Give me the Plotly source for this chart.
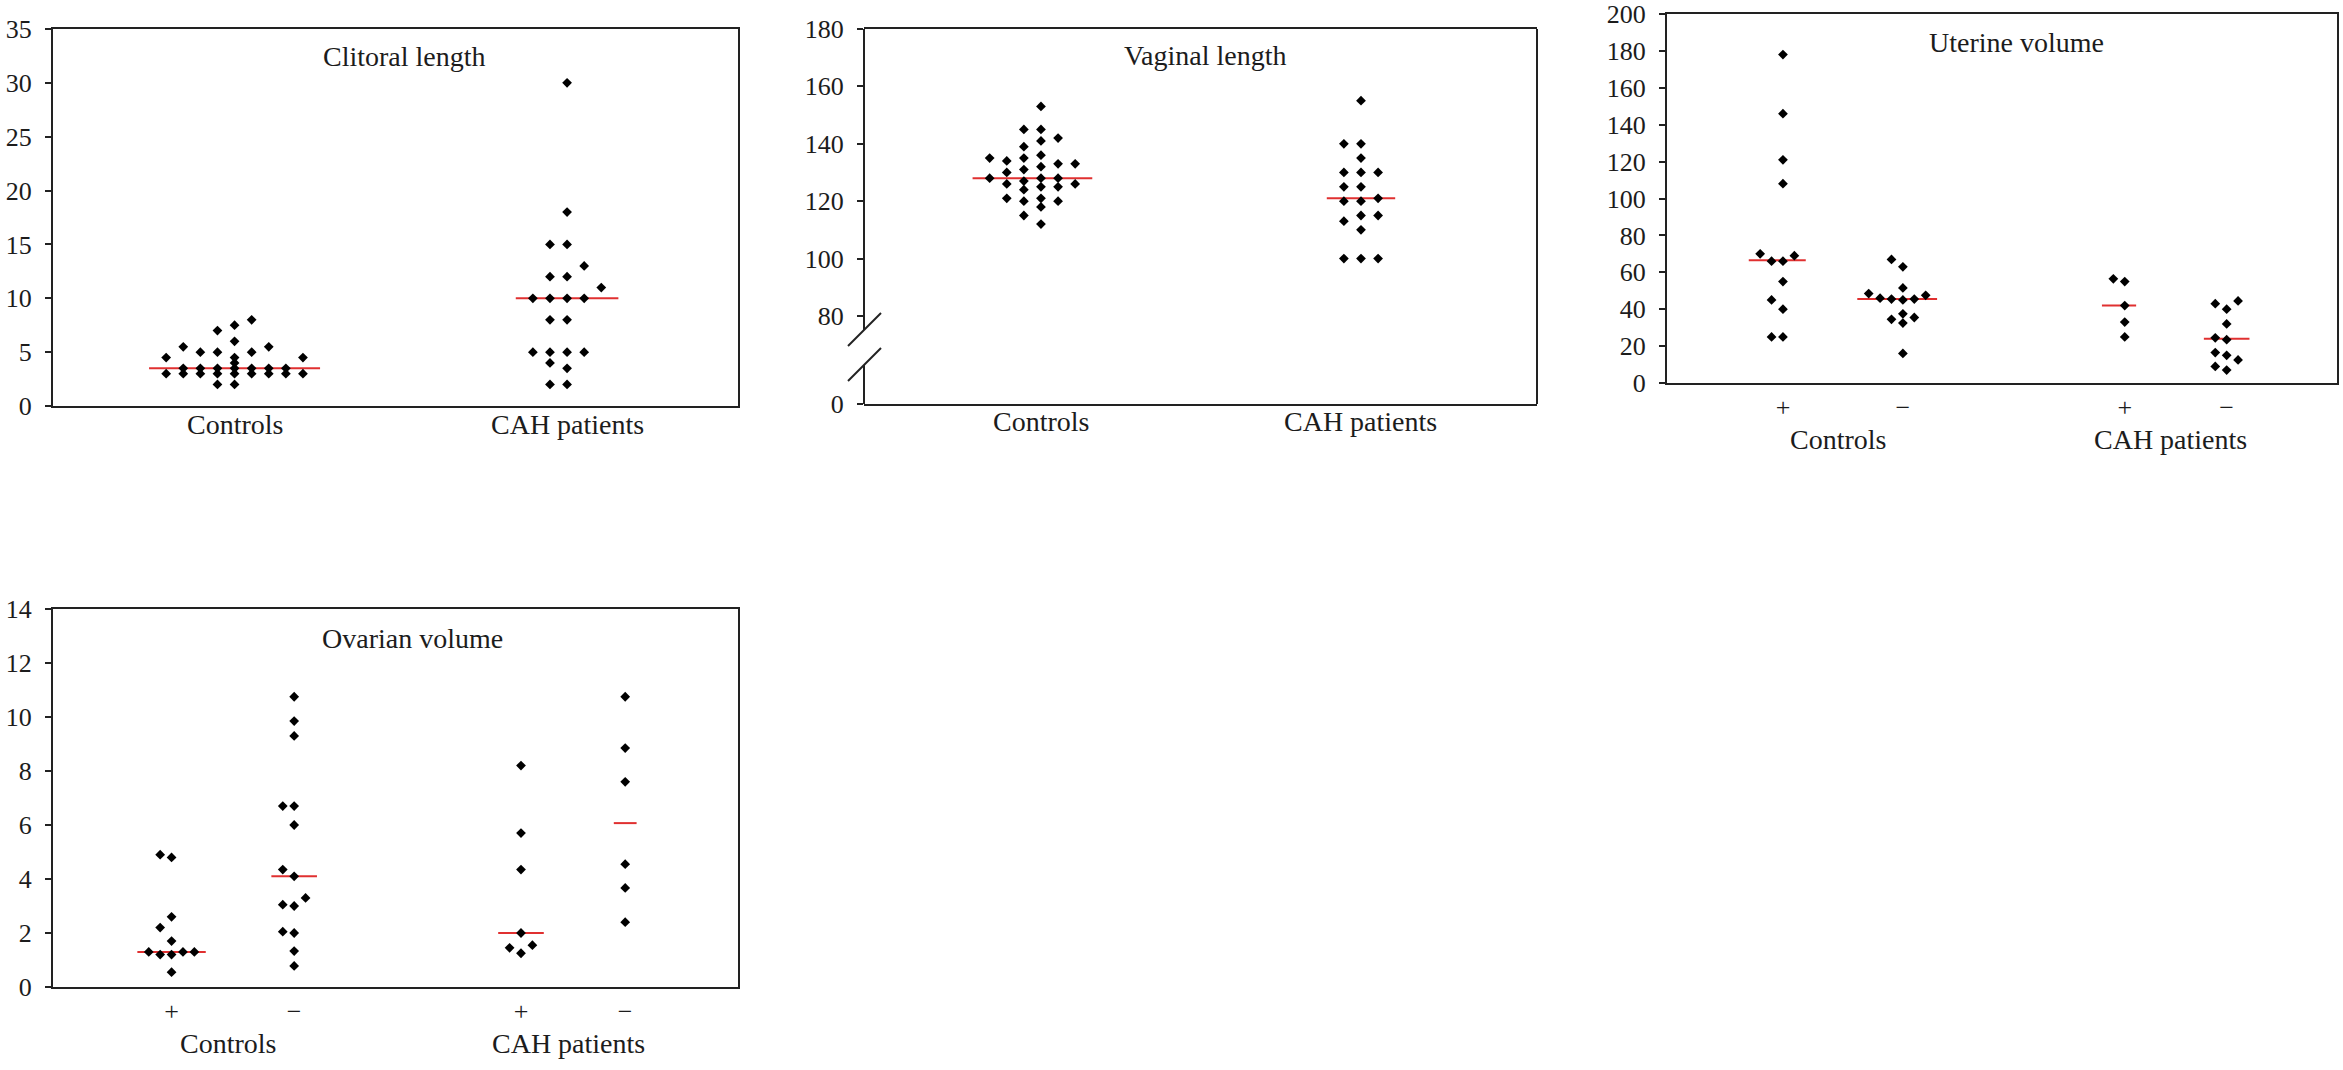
import plotly.graph_objects as go

# ---------------- data ----------------
titles = ["Clitoral length", "Vaginal length", "Uterine volume", "Ovarian volume"]
main_groups = ["Controls", "CAH patients"]
sub_groups = ["+", "−", "+", "−"]

clit_controls = [3, 4.5, 3, 7, 5.5, 3.5, 3, 6, 3.5, 3, 8, 5, 4, 3.5, 2, 5, 3,
                 3.5, 3, 2, 7.5, 5, 4.5, 3.5, 3, 5.5, 4.5, 3.5, 3, 3.5, 3]
clit_cah = [30, 18, 15, 15, 13, 12, 12, 11, 10, 10, 10, 10, 8, 8, 5, 5, 5, 5,
            4, 3.5, 2, 2]
clit_median = [3.5, 10]

vag_controls = [142, 136, 128, 126, 118, 145, 139, 133, 128, 125, 121, 145,
                141, 135, 124, 121, 112, 134, 131, 126, 115, 153, 133, 130,
                127, 120, 135, 132, 128, 125, 120]
vag_cah = [155, 140, 140, 135, 130, 130, 130, 125, 125, 120, 120, 121, 115,
           115, 113, 110, 100, 100, 100]
vag_median = [128, 121]

ut_ctrl_plus = [178, 146, 121, 108, 70, 69, 66, 66, 55, 45, 40, 25, 25]
ut_ctrl_minus = [67, 63, 51.5, 47.5, 48.5, 45.5, 45.5, 45, 46, 37.5, 35.5,
                 34.5, 32.5, 16]
ut_cah_plus = [55, 56.5, 42, 33, 25]
ut_cah_minus = [43, 44.5, 40, 32, 23.5, 24.5, 16.5, 15, 12.5, 9, 7]
ut_median = [66.5, 45.5, 42, 24]

ov_ctrl_plus = [4.9, 4.8, 2.6, 2.2, 1.7, 1.3, 1.3, 1.2, 1.2, 1.3, 0.55]
ov_ctrl_minus = [10.75, 9.85, 9.3, 6.7, 6.7, 6.0, 4.35, 4.1, 3.3, 3.05, 3.0,
                 2.05, 2.0, 1.33, 0.78]
ov_cah_plus = [8.2, 5.7, 4.35, 2.0, 1.55, 1.45, 1.25]
ov_cah_minus = [10.75, 8.85, 7.6, 4.55, 3.67, 2.4]
ov_median = [1.3, 4.1, 2.0, 6.07]

y_ticks_1 = [0, 5, 10, 15, 20, 25, 30, 35]
y_ticks_2 = [80, 100, 120, 140, 160, 180]
y_ticks_3 = [0, 20, 40, 60, 80, 100, 120, 140, 160, 180, 200]
y_ticks_4 = [0, 2, 4, 6, 8, 10, 12, 14]

# ---------------- layout geometry ----------------
W, H = 2343, 1070
FONT = "Liberation Serif"
INK = "#1c1c1c"
RED = "#e03030"
TICK_SIZE = 26
LABEL_SIZE = 28

boxes = {1: (53, 29, 738, 406), 2: (864, 29, 1537, 404),
         3: (1667, 14, 2337, 383), 4: (53, 609, 738, 987)}
xranges = {1: [0.454, 2.514], 2: [0.447, 2.55], 3: [0.033, 5.62], 4: [0.033, 5.62]}
Y2_BOTTOM = 49.3   # compressed start of the broken vaginal-length axis
yranges = {1: [0, 35], 2: [Y2_BOTTOM, 180], 3: [0, 200], 4: [0, 14]}
pos2 = [1, 2]
pos4 = [1, 2, 3.85, 4.7]
slot_px = {1: 17.1, 2: 17.1, 3: 11.4, 4: 11.4}
hard_px = {1: 5.0, 2: 6.0, 3: 8.0, 4: 8.0}
soft_px = {1: 11.0, 2: 11.0, 3: 11.0, 4: 14.0}


def domains(i):
    l, t, r, b = boxes[i]
    return [l / W, r / W], [1 - b / H, 1 - t / H]


def px_per_y(i):
    l, t, r, b = boxes[i]
    return (b - t) / (yranges[i][1] - yranges[i][0])


def x_per_px(i):
    l, t, r, b = boxes[i]
    return (xranges[i][1] - xranges[i][0]) / (r - l)


def swarm(values, i):
    """Deterministic column-scatter layout: slot index for each value."""
    ppu = px_per_y(i)
    order = sorted(range(len(values)), key=lambda k: values[k])
    cand = [0]
    for k in range(1, 40):
        cand += [-k, k]
    placed = []
    slots = [0] * len(values)

    def free(s, y, th):
        return all(not (ps == s and abs(py - y) < th) for ps, py in placed)

    for k in order:
        y = values[k] * ppu
        smax = max([1] + [abs(ps) for ps, _ in placed])
        chosen = None
        for s in cand:
            if abs(s) > smax:
                break
            if free(s, y, soft_px[i]):
                chosen = s
                break
        if chosen is None:
            for s in cand:
                if free(s, y, hard_px[i]):
                    chosen = s
                    break
        slots[k] = chosen
        placed.append((chosen, y))
    return slots


fig = go.Figure()


def add_group(i, center, values, median):
    sl = swarm(values, i)
    step = slot_px[i] * x_per_px(i)
    xs = [center + s * step for s in sl]
    xa = "x" if i == 1 else f"x{i}"
    ya = "y" if i == 1 else f"y{i}"
    fig.add_trace(go.Scatter(
        x=[center + (min(sl) - 1) * step, center + (max(sl) + 1) * step],
        y=[median, median], mode="lines",
        line=dict(color=RED, width=2), xaxis=xa, yaxis=ya, hoverinfo="skip"))
    fig.add_trace(go.Scatter(
        x=xs, y=values, mode="markers",
        marker=dict(symbol="diamond", size=7.5, color="black", line=dict(width=0)),
        xaxis=xa, yaxis=ya))


add_group(1, pos2[0], clit_controls, clit_median[0])
add_group(1, pos2[1], clit_cah, clit_median[1])
add_group(2, pos2[0], vag_controls, vag_median[0])
add_group(2, pos2[1], vag_cah, vag_median[1])
for k, vals in enumerate([ut_ctrl_plus, ut_ctrl_minus, ut_cah_plus, ut_cah_minus]):
    add_group(3, pos4[k], vals, ut_median[k])
for k, vals in enumerate([ov_ctrl_plus, ov_ctrl_minus, ov_cah_plus, ov_cah_minus]):
    add_group(4, pos4[k], vals, ov_median[k])

axis_common = dict(showgrid=False, zeroline=False, linecolor="#222", linewidth=2,
                   automargin=False, fixedrange=True,
                   tickfont=dict(family=FONT, size=TICK_SIZE, color=INK))

layout = dict(width=W, height=H, margin=dict(l=0, r=0, t=0, b=0, pad=0),
              paper_bgcolor="white", plot_bgcolor="white", showlegend=False,
              font=dict(family=FONT, color=INK))

ytick_sets = {1: (y_ticks_1, [str(v) for v in y_ticks_1]),
              2: ([Y2_BOTTOM] + y_ticks_2, ["0"] + [str(v) for v in y_ticks_2]),
              3: (y_ticks_3, [str(v) for v in y_ticks_3]),
              4: (y_ticks_4, [str(v) for v in y_ticks_4])}

for i in range(1, 5):
    xd, yd = domains(i)
    xkey = "xaxis" if i == 1 else f"xaxis{i}"
    ykey = "yaxis" if i == 1 else f"yaxis{i}"
    ya = "y" if i == 1 else f"y{i}"
    xa = "x" if i == 1 else f"x{i}"
    if i <= 2:
        xticks = dict(tickvals=pos2, ticktext=main_groups, showticklabels=False)
    else:
        xticks = dict(tickvals=pos4, ticktext=sub_groups, ticklabelstandoff=0)
    layout[xkey] = dict(axis_common, domain=xd, range=xranges[i], anchor=ya,
                        showline=True, mirror=True, ticks="", **xticks)
    yv, yt = ytick_sets[i]
    layout[ykey] = dict(axis_common, domain=yd, range=yranges[i], anchor=xa,
                        showline=(i != 2), mirror=True, ticks="outside",
                        ticklen=6, tickwidth=2, tickcolor="#222",
                        tickvals=yv, ticktext=yt, ticklabelstandoff=8)

fig.update_layout(**layout)

# titles
title_pos = {1: (0.513, 0.928), 2: (0.508, 0.928), 3: (0.522, 0.924), 4: (0.525, 0.922)}
for i in range(1, 5):
    xa = "x" if i == 1 else f"x{i}"
    ya = "y" if i == 1 else f"y{i}"
    fig.add_annotation(text=titles[i - 1], xref=f"{xa} domain", yref=f"{ya} domain",
                       x=title_pos[i][0], y=title_pos[i][1], showarrow=False,
                       xanchor="center", yanchor="middle",
                       font=dict(family=FONT, size=LABEL_SIZE, color=INK))

# group labels under the two-group panels
for i, yoff in ((1, -0.049), (2, -0.047)):
    xa = "x" if i == 1 else f"x{i}"
    ya = "y" if i == 1 else f"y{i}"
    for g, name in enumerate(main_groups):
        fig.add_annotation(text=name, xref=xa, yref=f"{ya} domain",
                           x=pos2[g], y=yoff, showarrow=False,
                           xanchor="center", yanchor="middle",
                           font=dict(family=FONT, size=LABEL_SIZE, color=INK))

# main group labels beneath the +/- labels
for i, yoff in ((3, -0.152), (4, -0.150)):
    for g, name in enumerate(main_groups):
        fig.add_annotation(text=name, xref=f"x{i}", yref=f"y{i} domain",
                           x=(pos4[2 * g] + pos4[2 * g + 1]) / 2 - 0.04, y=yoff,
                           showarrow=False, xanchor="center", yanchor="middle",
                           font=dict(family=FONT, size=LABEL_SIZE, color=INK))

# broken left axis + right frame line for the vaginal-length panel
l, t, r, b = boxes[2]


def px(xp, yp):
    return xp / W, 1 - yp / H


line_style = dict(color="#222", width=2)
segs = [((l, t), (l, 330)), ((l, 365), (l, b)), ((r, t), (r, b)),
        ((l - 16, 346), (l + 17, 313)), ((l - 16, 381), (l + 17, 348))]
for (x0, y0), (x1, y1) in segs:
    a0, b0 = px(x0, y0)
    a1, b1 = px(x1, y1)
    fig.add_shape(type="line", xref="paper", yref="paper", x0=a0, y0=b0, x1=a1, y1=b1,
                  line=line_style, layer="above")

fig.write_html("out.html", config={"displayModeBar": False},
               post_script="document.body.style.margin='0';")
